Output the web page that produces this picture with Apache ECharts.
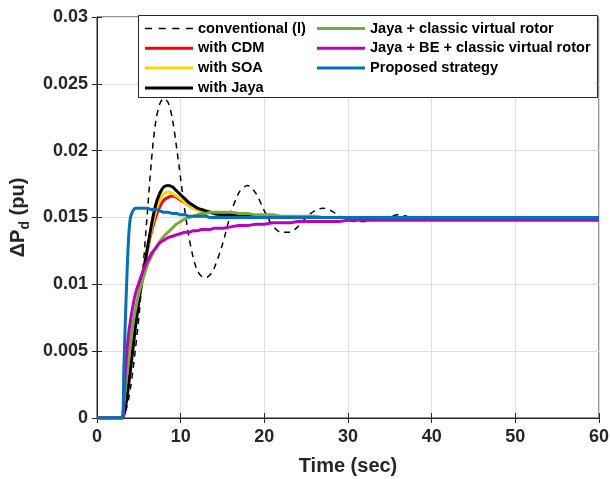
<!DOCTYPE html>
<html>
<head>
<meta charset="utf-8">
<script src="https://cdn.jsdelivr.net/npm/echarts@6/dist/echarts.min.js"></script>
<style>
  html, body { margin: 0; padding: 0; background: #fff; }
  #chart { width: 610px; height: 479px; }
</style>
</head>
<body>
<div id="chart"></div>
<script>
// time (sec)
var time = [0, 3, 3.2, 3.4, 3.6, 3.8, 4, 4.3, 4.6, 5, 5.5, 6, 6.5, 7, 7.5, 8, 8.5, 9, 9.5, 10,
  10.5, 11, 11.5, 12, 12.5, 13, 13.5, 14, 15, 16, 17, 18, 19, 20, 21, 22, 23, 24, 25, 26,
  27, 28, 29, 30, 31, 32, 33, 34, 35, 36, 37, 38, 39, 40, 42, 45, 50, 55, 60];

var conventional = [0, 0, 0.0002, 0.0005, 0.0009, 0.0015, 0.0022, 0.0036, 0.0052, 0.0075, 0.0112, 0.0152, 0.0192, 0.0221, 0.0235, 0.0239, 0.0236, 0.0224, 0.0203, 0.0179,
  0.0155, 0.0135, 0.012, 0.011, 0.0106, 0.0105, 0.0107, 0.0112, 0.013, 0.0153, 0.0169, 0.0174, 0.0168, 0.0155, 0.0144, 0.0139, 0.0139, 0.0143, 0.015, 0.0155,
  0.0157, 0.0155, 0.0151, 0.0148, 0.0147, 0.0147, 0.0148, 0.015, 0.0151, 0.0152, 0.0151, 0.015, 0.015, 0.0149, 0.015, 0.015, 0.015, 0.015, 0.015];

var withCDM = [0, 0, 0.0004, 0.0012, 0.0022, 0.0032, 0.0042, 0.0058, 0.0073, 0.0091, 0.0109, 0.0125, 0.0139, 0.015, 0.0158, 0.0163, 0.0165, 0.0166, 0.0165, 0.0163,
  0.0161, 0.0159, 0.0157, 0.0156, 0.0155, 0.0154, 0.0154, 0.0153, 0.0152, 0.0152, 0.0151, 0.0151, 0.0151, 0.015, 0.015, 0.015, 0.015, 0.015, 0.015, 0.015,
  0.015, 0.015, 0.015, 0.015, 0.015, 0.015, 0.015, 0.015, 0.015, 0.015, 0.015, 0.015, 0.015, 0.015, 0.015, 0.015, 0.015, 0.015, 0.015];

var withSOA = [0, 0, 0.0003, 0.001, 0.0019, 0.0029, 0.0039, 0.0055, 0.007, 0.0089, 0.0108, 0.0125, 0.0141, 0.0154, 0.0163, 0.0168, 0.0169, 0.0168, 0.0166, 0.0164,
  0.0161, 0.0159, 0.0157, 0.0156, 0.0155, 0.0154, 0.0154, 0.0153, 0.0152, 0.0152, 0.0151, 0.0151, 0.015, 0.015, 0.015, 0.015, 0.015, 0.015, 0.015, 0.015,
  0.015, 0.015, 0.015, 0.015, 0.015, 0.015, 0.015, 0.015, 0.015, 0.015, 0.015, 0.015, 0.015, 0.015, 0.015, 0.015, 0.015, 0.015, 0.015];

var withJaya = [0, 0, 0.0002, 0.0008, 0.0016, 0.0026, 0.0036, 0.0052, 0.0068, 0.0087, 0.0107, 0.0126, 0.0144, 0.0159, 0.0168, 0.0173, 0.0174, 0.0173, 0.017, 0.0167,
  0.0164, 0.0161, 0.0159, 0.0157, 0.0156, 0.0155, 0.0154, 0.0153, 0.0152, 0.0152, 0.0151, 0.0151, 0.015, 0.015, 0.015, 0.015, 0.015, 0.015, 0.015, 0.015,
  0.015, 0.015, 0.015, 0.015, 0.015, 0.015, 0.015, 0.015, 0.015, 0.015, 0.015, 0.015, 0.015, 0.015, 0.015, 0.015, 0.015, 0.015, 0.015];

var jayaClassic = [0, 0, 0.001, 0.0023, 0.0036, 0.0048, 0.0058, 0.0071, 0.0081, 0.0093, 0.0104, 0.0114, 0.0121, 0.0127, 0.0132, 0.0136, 0.0139, 0.0142, 0.0145, 0.0147,
  0.0149, 0.015, 0.0151, 0.0152, 0.0153, 0.0153, 0.0154, 0.0154, 0.0154, 0.0154, 0.0153, 0.0153, 0.0152, 0.0152, 0.0152, 0.0151, 0.0151, 0.0151, 0.0151, 0.0151,
  0.015, 0.015, 0.015, 0.015, 0.015, 0.015, 0.015, 0.015, 0.015, 0.015, 0.015, 0.015, 0.015, 0.015, 0.015, 0.015, 0.015, 0.015, 0.015];

var jayaBE = [0, 0, 0.0015, 0.0035, 0.0052, 0.0064, 0.0073, 0.0084, 0.0093, 0.0101, 0.011, 0.0117, 0.0123, 0.0127, 0.0131, 0.0133, 0.0135, 0.0136, 0.0137, 0.0138,
  0.0139, 0.0139, 0.014, 0.014, 0.0141, 0.0141, 0.0141, 0.0142, 0.0142, 0.0143, 0.0144, 0.0144, 0.0145, 0.0145, 0.0146, 0.0146, 0.0146, 0.0147, 0.0147, 0.0147,
  0.0147, 0.0147, 0.0147, 0.0148, 0.0148, 0.0148, 0.0148, 0.0148, 0.0148, 0.0148, 0.0148, 0.0148, 0.0148, 0.0148, 0.0148, 0.0148, 0.0148, 0.0148, 0.0148];

var proposed = [0, 0, 0.0035, 0.0075, 0.011, 0.0137, 0.015, 0.0155, 0.0157, 0.0157, 0.0157, 0.0157, 0.0156, 0.0156, 0.0155, 0.0154, 0.0154, 0.0153, 0.0153, 0.0152,
  0.0152, 0.0151, 0.0151, 0.0151, 0.0151, 0.0151, 0.015, 0.015, 0.015, 0.015, 0.015, 0.015, 0.015, 0.015, 0.015, 0.015, 0.015, 0.015, 0.015, 0.015,
  0.015, 0.015, 0.015, 0.015, 0.015, 0.015, 0.015, 0.015, 0.015, 0.015, 0.015, 0.015, 0.015, 0.015, 0.015, 0.015, 0.015, 0.015, 0.015];

var names = ['conventional (l)', 'with CDM', 'with SOA', 'with Jaya',
  'Jaya + classic virtual rotor', 'Jaya + BE + classic virtual rotor', 'Proposed strategy'];
var values = [conventional, withCDM, withSOA, withJaya, jayaClassic, jayaBE, proposed];
var colors = ['#000000', '#FF0000', '#FFD700', '#000000', '#77AC30', '#BF00BF', '#0072BD'];

var font = 'Liberation Sans, Arial, sans-serif';
var solidIcon = 'path://M0 0h48v3H0z';
var dashIcon = 'path://M0 0h7v1.6H0zM13.5 0h7v1.6h-7zM27 0h7v1.6h-7zM40.5 0h7v1.6h-7z';

function pairs(ys) {
  var out = [];
  for (var i = 0; i < time.length; i++) out.push([time[i], ys[i]]);
  return out;
}

var series = [];
var legendItems = [];
for (var i = 0; i < names.length; i++) {
  series.push({
    name: names[i],
    type: 'line',
    data: pairs(values[i]),
    showSymbol: false,
    symbol: 'none',
    smooth: 0.3,
    lineStyle: {
      color: colors[i],
      width: i === 0 ? 1.5 : 3,
      type: i === 0 ? [6, 5] : 'solid'
    },
    itemStyle: { color: colors[i] }
  });
  legendItems.push({ name: names[i], icon: i === 0 ? dashIcon : solidIcon });
}

var myChart = echarts.init(document.getElementById('chart'));
var legendText = { fontFamily: font, fontWeight: 'bold', fontSize: 14.6, color: '#000' };
var option = {
  animation: false,
  backgroundColor: '#fff',
  grid: {
    left: 97, right: 11, top: 17, bottom: 61,
    outerBoundsMode: 'none',
    show: true, borderColor: '#262626', borderWidth: 1
  },
  legend: [{
    data: legendItems.slice(0, 4),
    orient: 'vertical',
    left: 145, top: 21, padding: 0,
    itemWidth: 48, itemHeight: 14, itemGap: 4.8,
    textStyle: legendText,
    z: 6
  }, {
    data: legendItems.slice(4),
    orient: 'vertical',
    left: 317, top: 21, padding: 0,
    itemWidth: 48, itemHeight: 14, itemGap: 4.8,
    textStyle: legendText,
    z: 6
  }],
  graphic: [{
    type: 'rect',
    shape: { x: 138.5, y: 15.5, width: 459, height: 82 },
    style: { fill: '#fff', stroke: '#262626', lineWidth: 1 },
    z: 5
  }],
  xAxis: [{
    type: 'value',
    min: 0, max: 60, interval: 10,
    name: 'Time (sec)',
    nameLocation: 'middle',
    nameGap: 38,
    nameTextStyle: { fontFamily: font, fontWeight: 'bold', fontSize: 20, color: '#262626' },
    axisLine: { lineStyle: { color: '#262626' } },
    axisTick: { inside: true, length: 5, lineStyle: { color: '#262626' } },
    axisLabel: { fontFamily: font, fontWeight: 'bold', fontSize: 18, color: '#262626', margin: 10 },
    splitLine: { show: true, lineStyle: { color: '#dfdfdf' } }
  }, {
    type: 'value', position: 'top',
    min: 0, max: 60, interval: 10,
    axisLine: { show: false },
    axisTick: { inside: true, length: 5, lineStyle: { color: '#262626' } },
    axisLabel: { show: false },
    splitLine: { show: false }
  }],
  yAxis: [{
    type: 'value',
    min: 0, max: 0.03, interval: 0.005,
    name: '\u0394P{d|d} (pu)',
    nameLocation: 'middle',
    nameGap: 62,
    nameRotate: 90,
    nameTextStyle: {
      fontFamily: font, fontWeight: 'bold', fontSize: 20, color: '#262626',
      rich: {
        d: { fontFamily: font, fontWeight: 'bold', fontSize: 14, color: '#262626', padding: [14, 0, 0, 0] }
      }
    },
    axisLine: { show: true, lineStyle: { color: '#262626' } },
    axisTick: { inside: true, length: 5, lineStyle: { color: '#262626' } },
    axisLabel: { fontFamily: font, fontWeight: 'bold', fontSize: 18, color: '#262626', margin: 9 },
    splitLine: { show: true, lineStyle: { color: '#dfdfdf' } }
  }, {
    type: 'value', position: 'right',
    min: 0, max: 0.03, interval: 0.005,
    axisLine: { show: false },
    axisTick: { show: true, inside: true, length: 5, lineStyle: { color: '#262626' } },
    axisLabel: { show: false },
    splitLine: { show: false }
  }],
  series: series
};
myChart.setOption(option);
</script>
</body>
</html>
